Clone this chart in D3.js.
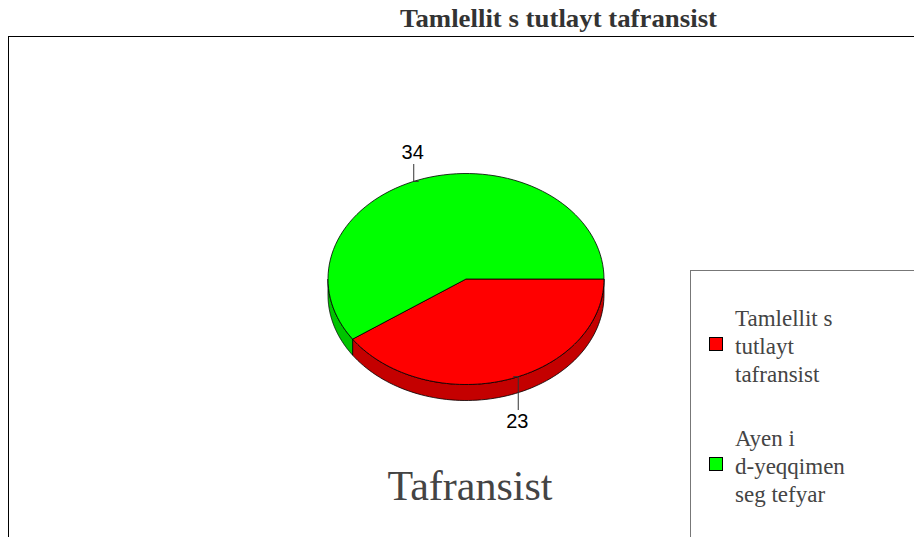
<!DOCTYPE html>
<html>
<head>
<meta charset="utf-8">
<script src="https://cdn.jsdelivr.net/npm/d3@7"></script>
<style>
  body { margin: 0; background: #fff; }
  svg { display: block; }
</style>
</head>
<body>
<div id="chart"></div>
<script>
// data
const categories = ["Tamlellit s tutlayt tafransist", "Ayen i d-yeqqimen seg tefyar"];
const values = [23, 34];
const legendLines = [["Tamlellit s", "tutlayt", "tafransist"], ["Ayen i", "d-yeqqimen", "seg tefyar"]];
const topColors = ["#ff0000", "#00ff00"];
const sideColors = ["#c40000", "#00c400"];
const chartTitle = "Tamlellit s tutlayt tafransist";
const seriesName = "Tafransist";

const W = 914, H = 537;
const svg = d3.select("#chart").append("svg").attr("width", W).attr("height", H);

// frame
svg.append("rect").attr("x", 8.5).attr("y", 36.5).attr("width", 920).attr("height", 520)
  .attr("fill", "none").attr("stroke", "#000").attr("stroke-width", 1);

svg.append("text").attr("x", 400).attr("y", 27)
  .attr("font-family", "Liberation Serif, serif").attr("font-weight", "bold")
  .attr("font-size", 26).attr("fill", "#333")
  .attr("textLength", 317).attr("lengthAdjust", "spacingAndGlyphs").text(chartTitle);

// pie geometry
const cx = 466, cy = 279, rx = 138, ry = 105.5, depth = 16;

const pie = d3.pie().sort(null).startAngle(0).endAngle(2 * Math.PI);
const arcs = pie(values);   // angle 0 = 3 o'clock, going clockwise on screen

const pt = (t, dy = 0) => [cx + rx * Math.cos(t), cy + ry * Math.sin(t) + dy];

function topPath(a0, a1) {
  const n = 80, p = d3.path();
  p.moveTo(cx, cy);
  for (let i = 0; i <= n; i++) {
    const [x, y] = pt(a0 + (a1 - a0) * i / n);
    p.lineTo(x, y);
  }
  p.closePath();
  return p.toString();
}

function sidePath(a0, a1) {
  const s = Math.max(a0, 0), e = Math.min(a1, Math.PI);
  if (e <= s) return null;
  const n = 80, p = d3.path();
  for (let i = 0; i <= n; i++) {
    const [x, y] = pt(s + (e - s) * i / n);
    i === 0 ? p.moveTo(x, y) : p.lineTo(x, y);
  }
  for (let i = n; i >= 0; i--) {
    const [x, y] = pt(s + (e - s) * i / n, depth);
    p.lineTo(x, y);
  }
  p.closePath();
  return p.toString();
}

const g = svg.append("g");

arcs.forEach((d, i) => {
  const sp = sidePath(d.startAngle, d.endAngle);
  if (sp) g.append("path").attr("d", sp).attr("fill", sideColors[i])
    .attr("stroke", "#000").attr("stroke-width", 0.8).attr("stroke-linejoin", "round");
});
arcs.forEach((d, i) => {
  g.append("path").attr("d", topPath(d.startAngle, d.endAngle)).attr("fill", topColors[i])
    .attr("stroke", "#000").attr("stroke-width", 0.8).attr("stroke-linejoin", "round");
});

// value labels with leader lines
arcs.forEach((d, i) => {
  const m = (d.startAngle + d.endAngle) / 2;
  const t = Math.atan2(ry / rx * Math.sin(m), Math.cos(m));
  const [x, y] = pt(t);
  const down = Math.sin(m) > 0;
  const y2 = down ? 410 : 164;
  const sx = down ? x - 5 : x + 5;
  g.append("path").attr("d", `M${sx},${y}L${x},${y}L${x},${y2}`)
    .attr("fill", "none").attr("stroke", "#333").attr("stroke-width", 1);
  g.append("text").attr("x", x - 1).attr("y", down ? y2 + 18 : y2 - 5)
    .attr("text-anchor", "middle").attr("font-family", "Liberation Sans, Arial, sans-serif")
    .attr("font-size", 20).attr("fill", "#000").text(values[i]);
});

svg.append("text").attr("x", 470).attr("y", 500).attr("text-anchor", "middle")
  .attr("font-family", "Liberation Serif, serif").attr("font-size", 42)
  .attr("fill", "#444").text(seriesName);

// legend
const lg = svg.append("g");
lg.append("rect").attr("x", 690.5).attr("y", 270.5).attr("width", 300).attr("height", 300)
  .attr("fill", "#fff").attr("stroke", "#777").attr("stroke-width", 1);

categories.forEach((c, i) => {
  const baseY = 326 + i * 120;
  lg.append("rect").attr("x", 709.5).attr("y", baseY + 11.5).attr("width", 13).attr("height", 13)
    .attr("fill", topColors[i]).attr("stroke", "#000").attr("stroke-width", 1);
  const txt = lg.append("text").attr("font-family", "Liberation Serif, serif")
    .attr("font-size", 23).attr("fill", "#444");
  legendLines[i].forEach((ln, j) => {
    txt.append("tspan").attr("x", 735).attr("y", baseY + j * 28).text(ln);
  });
});
</script>
</body>
</html>
